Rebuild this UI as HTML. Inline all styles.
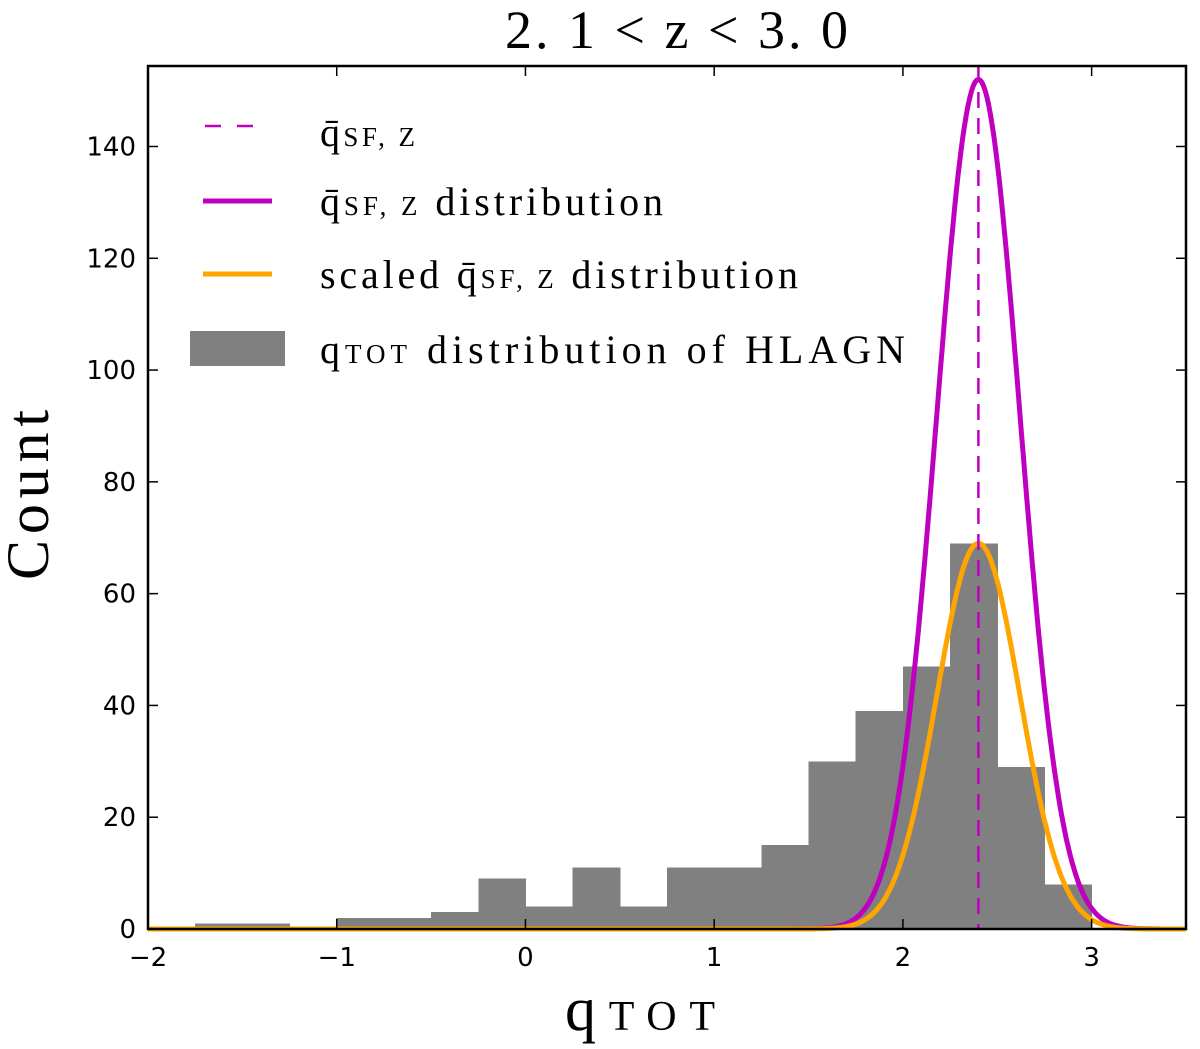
<!DOCTYPE html>
<html><head><meta charset="utf-8"><style>
body{margin:0;background:#fff;}
svg text{font-family:"Liberation Serif",serif;}
.tk{font-family:"DejaVu Sans","Liberation Sans",sans-serif;font-size:26px;}
</style></head><body>
<svg id="chart" width="1200" height="1044" xmlns="http://www.w3.org/2000/svg">
<text x="505" y="48" font-size="54" textLength="343" lengthAdjust="spacing">2. 1 &lt; z &lt; 3. 0</text>
<g id="bars" shape-rendering="crispEdges"></g><g id="curves"></g><g id="ticks"></g>
<rect x="148" y="66" width="1038" height="863" fill="none" stroke="#000" stroke-width="2.5"/>
<text transform="translate(48,580) rotate(-90)" font-size="60" textLength="170" lengthAdjust="spacing">Count</text>
<text x="565" y="1030" font-size="62" textLength="150" lengthAdjust="spacing">q<tspan font-size="42">TOT</tspan></text>
<g font-size="40">
<line x1="205" y1="126" x2="262" y2="126" stroke="#bf00bf" stroke-width="2.5" stroke-dasharray="16,16"/>
<text x="320" y="146" textLength="95" lengthAdjust="spacing">q̄<tspan font-size="27">SF, Z</tspan></text>
<line x1="203" y1="201" x2="272" y2="201" stroke="#bf00bf" stroke-width="5"/>
<text x="320" y="215" textLength="343" lengthAdjust="spacing">q̄<tspan font-size="27">SF, Z</tspan> distribution</text>
<line x1="203" y1="274" x2="272" y2="274" stroke="#ffa500" stroke-width="5"/>
<text x="320" y="288" textLength="478" lengthAdjust="spacing">scaled q̄<tspan font-size="27">SF, Z</tspan> distribution</text>
<rect x="190" y="331" width="95" height="35" fill="#808080"/>
<text x="320" y="363" textLength="585" lengthAdjust="spacing">q<tspan font-size="27">TOT</tspan> distribution of HLAGN</text>
</g>
</svg>
<script>
const binStart=-2, binWidth=0.25;
const counts=[0,1,1,0,2,2,3,9,4,11,4,11,11,15,30,39,47,69,29,8];
const mean=2.4, sigma=0.22;
const peakFull=152, peakScaled=69;
const xTicks=[-2,-1,0,1,2,3];
const yTicks=[0,20,40,60,80,100,120,140];
const xMin=-2,xMax=3.5,yMin=0,yMax=154.4;
const L=148,R=1186,T=66,B=929;
const sx=v=>L+(v-xMin)/(xMax-xMin)*(R-L);
const sy=v=>B-(v-yMin)/(yMax-yMin)*(B-T);
const NS="http://www.w3.org/2000/svg";
function mk(t,a,p){const e=document.createElementNS(NS,t);for(const k in a)e.setAttribute(k,a[k]);p.appendChild(e);return e;}
const bars=document.getElementById('bars');
counts.forEach((c,i)=>{if(!c)return;const x0=binStart+i*binWidth;
const r=mk('rect',{x:sx(x0),y:sy(c),width:sx(x0+binWidth)-sx(x0)+0.6,height:sy(0)-sy(c),fill:'#808080'},bars);

});
const cg=document.getElementById('curves');
function curve(peak,color,name){let d='';for(let i=0;i<=600;i++){const x=xMin+(xMax-xMin)*i/600;const y=peak*Math.exp(-0.5*((x-mean)/sigma)**2);d+=(i?'L':'M')+sx(x).toFixed(1)+','+sy(y).toFixed(1);}
const p=mk('path',{d:d,fill:'none',stroke:color,'stroke-width':5},cg);

}
curve(peakFull,'#bf00bf','sf-distribution-curve');
curve(peakScaled,'#ffa500','scaled-distribution-curve');
const ml=mk('line',{x1:sx(mean),x2:sx(mean),y1:T,y2:B,stroke:'#bf00bf','stroke-width':2.5,'stroke-dasharray':'16,10'},cg);


const tg=document.getElementById('ticks');
xTicks.forEach(v=>{const x=sx(v);
mk('line',{x1:x,x2:x,y1:B,y2:B-10,stroke:'#000','stroke-width':1.5},tg);
mk('line',{x1:x,x2:x,y1:T,y2:T+10,stroke:'#000','stroke-width':1.5},tg);
const t=mk('text',{x:x,y:B+37,'text-anchor':'middle',class:'tk'},tg);t.textContent=v<0?'\u2212'+(-v):v;

});
yTicks.forEach(v=>{const y=sy(v);
mk('line',{x1:L,x2:L+10,y1:y,y2:y,stroke:'#000','stroke-width':1.5},tg);
mk('line',{x1:R,x2:R-10,y1:y,y2:y,stroke:'#000','stroke-width':1.5},tg);
const t=mk('text',{x:L-12,y:y+9,'text-anchor':'end',class:'tk'},tg);t.textContent=v;

});
</script>
</body></html>
